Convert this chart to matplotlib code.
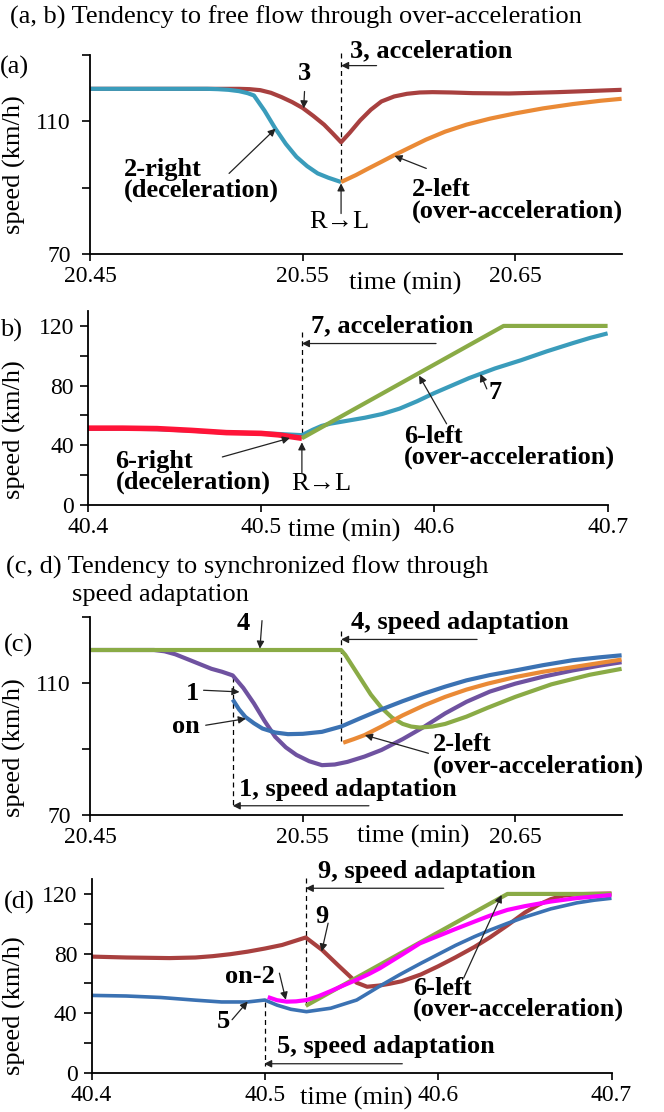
import matplotlib

matplotlib.use("Agg")
import matplotlib.pyplot as plt

plt.rcParams["font.family"] = ["Liberation Serif", "DejaVu Serif"]
plt.rcParams["font.size"] = 19

W, H = 664, 1112

BROWN = "#a8403f"
TEAL = "#3a9cbb"
ORANGE = "#ea8a36"
GREEN = "#8aab46"
PURPLE = "#6f52a0"
BLUE = "#3b72b3"
MAGENTA = "#ff00ff"
RED = "#ff1438"

# ---- (a) free flow, time 20.45-20.70 min ----
t_a_3 = [20.45, 20.52, 20.525, 20.53, 20.535, 20.54, 20.545, 20.55, 20.555,
         20.56, 20.564, 20.568, 20.572, 20.577, 20.582, 20.587, 20.593, 20.599,
         20.605, 20.611, 20.62, 20.63, 20.647, 20.67, 20.70]
v_a_3 = [119.8, 119.8, 119.7, 119.4, 118.6, 117.3, 115.8, 114.0, 111.6,
         109.0, 106.4, 103.7, 106.5, 110.3, 113.5, 116.0, 117.5, 118.3,
         118.7, 118.8, 118.7, 118.5, 118.4, 118.8, 119.5]
t_a_2right = [20.45, 20.505, 20.51, 20.515, 20.52, 20.524, 20.527, 20.532,
              20.537, 20.542, 20.547, 20.552, 20.557, 20.562, 20.568]
v_a_2right = [119.8, 119.8, 119.7, 119.5, 119.1, 118.5, 117.8, 113.2,
              107.9, 103.2, 99.3, 96.5, 94.3, 93.0, 91.7]
t_a_2left = [20.568, 20.575, 20.58, 20.587, 20.593, 20.60, 20.608, 20.617,
             20.627, 20.638, 20.65, 20.663, 20.677, 20.69, 20.70]
v_a_2left = [91.7, 93.8, 95.5, 97.8, 99.8, 102.0, 104.5, 106.9, 109.0,
             110.8, 112.4, 113.9, 115.2, 116.2, 116.8]

# ---- (b) free flow, time 40.4-40.7 min ----
t_b_6right = [40.40, 40.42, 40.44, 40.46, 40.48, 40.50, 40.51, 40.5236]
v_b_6right = [51.5, 51.5, 51.2, 50.0, 48.5, 48.0, 47.0, 44.7]
t_b_7 = [40.40, 40.42, 40.44, 40.46, 40.48, 40.50, 40.51, 40.5236, 40.53,
         40.535, 40.54, 40.55, 40.56, 40.57, 40.58, 40.59, 40.60, 40.61,
         40.62, 40.635, 40.65, 40.665, 40.68, 40.69, 40.70]
v_b_7 = [51.0, 51.2, 50.8, 49.8, 48.5, 48.0, 47.6, 46.8, 50.5, 53.0, 54.5,
         56.5, 58.5, 61.0, 64.6, 69.5, 75.0, 80.0, 85.0, 91.5, 97.0, 103.0,
         108.5, 112.0, 115.0]
t_b_6left = [40.5236, 40.64, 40.70]
v_b_6left = [44.7, 120.0, 120.0]

# ---- (c) synchronized flow, time 20.45-20.70 min ----
t_c_4 = [20.45, 20.568, 20.57, 20.573, 20.577, 20.582, 20.587, 20.592,
         20.597, 20.601, 20.605, 20.611, 20.617, 20.627, 20.637, 20.65,
         20.667, 20.685, 20.70]
v_c_4 = [120.0, 120.0, 118.5, 115.5, 111.5, 106.5, 102.5, 99.5, 97.6,
         96.8, 96.5, 96.8, 97.6, 99.8, 102.5, 105.8, 109.6, 112.5, 114.3]
t_c_1 = [20.45, 20.48, 20.485, 20.49, 20.497, 20.507, 20.512, 20.517,
         20.522, 20.527, 20.532, 20.537, 20.542, 20.547, 20.553, 20.559,
         20.565, 20.571, 20.579, 20.587, 20.597, 20.607, 20.617, 20.627,
         20.638, 20.65, 20.663, 20.677, 20.69, 20.70]
v_c_1 = [120.0, 120.0, 119.6, 118.7, 116.9, 114.3, 113.4, 112.3, 108.5,
         103.8, 98.5, 93.7, 90.5, 88.2, 86.3, 85.1, 85.3, 86.1, 87.7, 89.7,
         93.0, 96.7, 100.8, 104.3, 107.4, 109.8, 111.9, 113.8, 115.3, 116.3]
t_c_on = [20.517, 20.52, 20.523, 20.527, 20.531, 20.537, 20.543, 20.55,
          20.559, 20.568, 20.577, 20.587, 20.597, 20.607, 20.617, 20.627,
          20.638, 20.65, 20.663, 20.677, 20.69, 20.70]
v_c_on = [105.0, 102.0, 99.7, 97.8, 96.2, 95.0, 94.5, 94.6, 95.2, 96.8,
          99.3, 102.0, 104.5, 106.8, 108.9, 110.8, 112.4, 113.8, 115.4,
          116.9, 117.8, 118.4]
t_c_2left = [20.569, 20.574, 20.579, 20.587, 20.597, 20.607, 20.617, 20.627,
             20.637, 20.65, 20.663, 20.677, 20.69, 20.70]
v_c_2left = [91.9, 93.0, 94.2, 96.8, 100.2, 103.2, 105.8, 108.0, 109.8,
             111.8, 113.4, 114.8, 116.1, 117.1]

# ---- (d) synchronized flow, time 40.4-40.7 min ----
t_d_9 = [40.40, 40.42, 40.445, 40.46, 40.47, 40.48, 40.49, 40.50, 40.51,
         40.5236, 40.533, 40.543, 40.553, 40.559, 40.566, 40.572, 40.579,
         40.59, 40.60, 40.61, 40.621, 40.63, 40.64, 40.65, 40.658, 40.665,
         40.672, 40.68, 40.70]
v_d_9 = [78.0, 77.4, 77.0, 77.4, 78.3, 79.6, 81.3, 83.4, 85.8, 90.8, 82.5,
         71.4, 60.5, 57.8, 58.6, 59.8, 61.5, 66.0, 71.5, 77.5, 84.5, 91.0,
         99.0, 107.5, 112.8, 116.5, 118.8, 119.8, 120.3]
t_d_5 = [40.40, 40.42, 40.44, 40.46, 40.475, 40.49, 40.50, 40.507, 40.515,
         40.524, 40.538, 40.553, 40.566, 40.578, 40.59, 40.60, 40.61, 40.621,
         40.63, 40.64, 40.65, 40.665, 40.68, 40.69, 40.70]
v_d_5 = [52.0, 51.6, 50.6, 48.8, 47.6, 47.6, 48.9, 45.5, 42.7, 41.1, 43.4,
         48.9, 58.0, 66.0, 73.5, 79.5, 85.5, 91.4, 95.8, 100.3, 104.5, 110.0,
         114.0, 115.8, 117.1]
t_d_on2 = [40.5017, 40.507, 40.5126, 40.518, 40.5242, 40.531, 40.5376,
           40.545, 40.553, 40.56, 40.5664, 40.578, 40.5895, 40.60, 40.61,
           40.621, 40.63, 40.64, 40.65, 40.665, 40.68, 40.70]
v_d_on2 = [50.9, 48.8, 47.8, 48.0, 48.9, 51.5, 54.7, 58.5, 62.5, 66.3, 70.2,
           78.5, 86.9, 91.8, 96.5, 101.5, 105.5, 109.3, 111.8, 114.9, 117.2,
           119.3]
t_d_6left = [40.5236, 40.64, 40.70]
v_d_6left = [45.0, 120.0, 120.0]


def fx(px):
    return px / W


def fy(py):
    return 1 - py / H


def make_axes(fig, box, xlim, xticks, xlabels, ylim, yticks, ylabels, ypad):
    left, top, right, bottom = box
    ax = fig.add_axes([fx(left), fy(bottom), (right - left) / W, (bottom - top) / H])
    ax.set_xlim(*xlim)
    ax.set_ylim(*ylim)
    ax.set_xticks(xticks, xlabels)
    ax.set_yticks(yticks, ylabels)
    for side in ("top", "right"):
        ax.spines[side].set_visible(False)
    for side in ("left", "bottom"):
        ax.spines[side].set_linewidth(1.3)
    ax.tick_params(axis="x", direction="out", length=5, width=1.2, pad=3.5, labelsize=17)
    ax.tick_params(axis="y", direction="out", length=6, width=1.2, pad=ypad, labelsize=17)
    ax.patch.set_alpha(0)
    return ax


def vdash(ax, t, v0, v1):
    ax.plot([t, t], [v0, v1], color="k", lw=0.9, ls=(0, (4, 3)), clip_on=False, zorder=1)


def note(ax, text, pos, ha="left", bold=True):
    ax.text(pos[0], pos[1], text, ha=ha, va="center", linespacing=0.9,
            fontweight="bold" if bold else "normal", clip_on=False)


def arrow(ax, tail, head):
    ax.annotate("", xy=head, xytext=tail, annotation_clip=False,
                arrowprops=dict(arrowstyle="-|>", color="#222222", lw=0.9,
                                mutation_scale=11, shrinkA=0, shrinkB=0))


def curve(ax, t, v, color, lw=3):
    ax.plot(t, v, color=color, lw=lw, solid_joinstyle="round", solid_capstyle="butt")


fig = plt.figure(figsize=(W / 100, H / 100), dpi=100)

# panel (a)
ax = make_axes(fig, (90.3, 55, 621.6, 254), (20.45, 20.70), [20.45, 20.55, 20.65],
               ["20.45", "20.55", "20.65"], (70, 130), [70, 90, 110, 130],
               ["70", "", "110", ""], 8)
curve(ax, t_a_3, v_a_3, BROWN)
curve(ax, t_a_2right, v_a_2right, TEAL)
curve(ax, t_a_2left, v_a_2left, ORANGE)
vdash(ax, 20.568, 130.6, 91.7)
note(ax, "3, acceleration", (20.572, 131.4))
arrow(ax, (20.5847, 126.8), (20.568, 126.8))
note(ax, "3", (20.5506, 124.5), ha="center")
arrow(ax, (20.5508, 119.0), (20.5504, 113.9))
note(ax, "2-right\n(deceleration)", (20.4656, 92.3))
arrow(ax, (20.5153, 94.3), (20.5372, 107.8))
note(ax, "2-left\n(over-acceleration)", (20.6011, 86.2))
arrow(ax, (20.6081, 95.8), (20.5931, 99.6))
note(ax, "R\u2192L", (20.5672, 79.7), ha="center", bold=False)
arrow(ax, (20.568, 82.2), (20.568, 91.3))

# panel (b)
ax = make_axes(fig, (87.7, 311, 607.6, 505), (40.4, 40.7), [40.4, 40.5, 40.6, 40.7],
               ["40.4", "40.5", "40.6", "40.7"], (0, 130), [0, 20, 40, 60, 80, 100, 120],
               ["0", "", "40", "", "80", "", "120"], 4)
curve(ax, t_b_7, v_b_7, TEAL)
curve(ax, t_b_6right, v_b_6right, RED, lw=4)
curve(ax, t_b_6left, v_b_6left, GREEN)
vdash(ax, 40.5236, 115.6, 44.7)
note(ax, "7, acceleration", (40.5289, 120.0))
arrow(ax, (40.601, 108.2), (40.5236, 108.2))
note(ax, "7", (40.6352, 75.6), ha="center")
arrow(ax, (40.6303, 77.8), (40.6266, 87.8))
note(ax, "6-left\n(over-acceleration)", (40.5826, 38.9))
arrow(ax, (40.6071, 54.4), (40.5912, 86.7))
note(ax, "6-right\n(deceleration)", (40.4161, 22.2))
arrow(ax, (40.4777, 32.2), (40.5167, 44.9))
note(ax, "R\u2192L", (40.535, 14.4), ha="center", bold=False)
arrow(ax, (40.5236, 21.1), (40.5236, 42.0))

# panel (c)
ax = make_axes(fig, (90.3, 617, 621.6, 815), (20.45, 20.70), [20.45, 20.55, 20.65],
               ["20.45", "20.55", "20.65"], (70, 130), [70, 90, 110, 130],
               ["70", "", "110", ""], 8)
curve(ax, t_c_1, v_c_1, PURPLE)
curve(ax, t_c_4, v_c_4, GREEN)
curve(ax, t_c_2left, v_c_2left, ORANGE)
curve(ax, t_c_on, v_c_on, BLUE)
vdash(ax, 20.568, 125.9, 91.9)
vdash(ax, 20.517, 111.8, 72.5)
note(ax, "4, speed adaptation", (20.5728, 128.4))
arrow(ax, (20.632, 123.2), (20.568, 123.2))
note(ax, "4", (20.5219, 127.9), ha="center")
arrow(ax, (20.5308, 128.9), (20.5298, 120.4))
note(ax, "1", (20.4983, 106.8), ha="center")
arrow(ax, (20.5033, 107.8), (20.5202, 107.3))
note(ax, "on", (20.4949, 96.7), ha="center")
arrow(ax, (20.5043, 97.2), (20.5232, 99.2))
note(ax, "2-left\n(over-acceleration)", (20.6111, 88.0))
arrow(ax, (20.6091, 88.7), (20.5792, 94.2))
note(ax, "1, speed adaptation", (20.5202, 77.6))
arrow(ax, (20.5811, 72.8), (20.517, 72.8))

# panel (d)
ax = make_axes(fig, (91.5, 879, 611.5, 1073), (40.4, 40.7), [40.4, 40.5, 40.6, 40.7],
               ["40.4", "40.5", "40.6", "40.7"], (0, 130), [0, 20, 40, 60, 80, 100, 120],
               ["0", "", "40", "", "80", "", "120"], 4)
curve(ax, t_d_9, v_d_9, BROWN)
curve(ax, t_d_5, v_d_5, BLUE, lw=2.6)
curve(ax, t_d_6left, v_d_6left, GREEN)
curve(ax, t_d_on2, v_d_on2, MAGENTA)
vdash(ax, 40.5236, 130.7, 45.0)
vdash(ax, 40.5, 47.9, 4.4)
note(ax, "9, speed adaptation", (40.5304, 134.9))
arrow(ax, (40.6032, 123.8), (40.5236, 123.8))
note(ax, "9", (40.5328, 104.8), ha="center")
arrow(ax, (40.5365, 100.4), (40.5328, 81.4))
note(ax, "on-2", (40.4913, 64.7), ha="center")
arrow(ax, (40.5084, 66.9), (40.5121, 49.1))
note(ax, "5", (40.4762, 34.5), ha="center")
arrow(ax, (40.4811, 35.7), (40.4901, 47.9))
note(ax, "6-left\n(over-acceleration)", (40.5853, 49.6))
arrow(ax, (40.6147, 63.6), (40.6366, 119.3))
note(ax, "5, speed adaptation", (40.5072, 17.8))
arrow(ax, (40.5793, 6.2), (40.4996, 6.2))

# figure-level labels
fig.text(fx(10), fy(17), "(a, b) Tendency to free flow through over-acceleration",
         ha="left", va="center")
fig.text(fx(6), fy(567), "(c, d) Tendency to synchronized flow through",
         ha="left", va="center")
fig.text(fx(72), fy(595), "speed adaptation", ha="left", va="center")
fig.text(fx(0), fy(67), "(a)", ha="left", va="center")
fig.text(fx(0), fy(330), "b)", ha="left", va="center")
fig.text(fx(4), fy(645), "(c)", ha="left", va="center")
fig.text(fx(4), fy(902), "(d)", ha="left", va="center")
for ylab_y in (165, 430, 748, 1006):
    fig.text(fx(14), fy(ylab_y), "speed (km/h)", rotation=90, ha="center", va="center")
for xlab_x, xlab_y in ((405, 283), (344, 530), (413, 836), (356, 1098)):
    fig.text(fx(xlab_x), fy(xlab_y), "time (min)", ha="center", va="center")

fig.savefig("out.png", dpi=100)
